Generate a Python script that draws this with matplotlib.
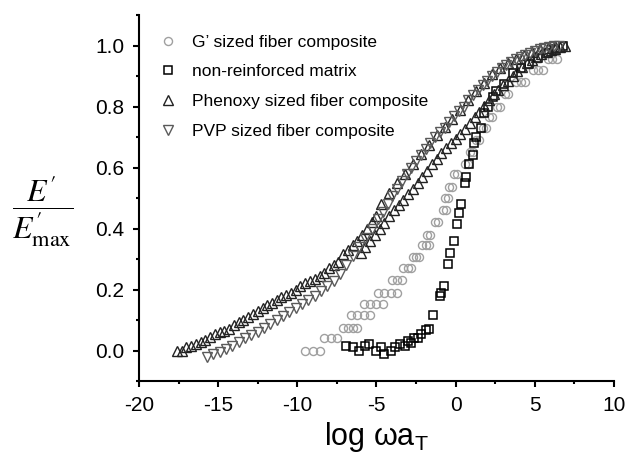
import numpy as np
import matplotlib
matplotlib.use("Agg")
import matplotlib.pyplot as plt
from matplotlib.ticker import AutoMinorLocator

plt.rcParams['font.family'] = ['Liberation Sans', 'DejaVu Sans']
plt.rcParams['mathtext.fontset'] = 'custom'
plt.rcParams['mathtext.rm'] = 'Liberation Sans'
plt.rcParams['mathtext.it'] = 'Liberation Sans:italic'

# ---------------- data ----------------
labels = ["G\u2019 sized fiber composite", "non-reinforced matrix",
          "Phenoxy sized fiber composite", "PVP sized fiber composite"]

gsized_x = [-9.5, -9.0, -8.6,
            -8.3, -7.9, -7.5,
            -7.1, -6.8, -6.5, -6.2,
            -6.6, -6.2, -5.8, -5.4,
            -5.8, -5.4, -5.0, -4.6,
            -4.9, -4.5, -4.1, -3.7,
            -4.0, -3.7, -3.4,
            -3.3, -3.0, -2.8,
            -2.7, -2.5, -2.3,
            -2.1, -1.9, -1.7,
            -1.8, -1.6,
            -1.3, -1.1,
            -0.8, -0.6,
            -0.7, -0.5,
            -0.4, -0.2,
            -0.1, 0.1,
            0.6, 0.8,
            0.9, 1.1,
            1.3, 1.5,
            1.7, 1.9,
            2.1, 2.3,
            2.6, 2.8,
            3.1, 3.3,
            3.8, 4.1, 4.4,
            4.9, 5.2, 5.5,
            5.8, 6.1, 6.4]
gsized_y = [0.0, 0.0, 0.0,
            0.04, 0.04, 0.04,
            0.075, 0.075, 0.075, 0.075,
            0.115, 0.115, 0.115, 0.115,
            0.153, 0.153, 0.153, 0.153,
            0.19, 0.19, 0.19, 0.19,
            0.23, 0.23, 0.23,
            0.27, 0.27, 0.27,
            0.305, 0.305, 0.305,
            0.345, 0.345, 0.345,
            0.38, 0.38,
            0.42, 0.42,
            0.46, 0.46,
            0.50, 0.50,
            0.535, 0.535,
            0.58, 0.58,
            0.61, 0.61,
            0.65, 0.65,
            0.69, 0.69,
            0.73, 0.73,
            0.765, 0.765,
            0.80, 0.80,
            0.84, 0.84,
            0.88, 0.88, 0.88,
            0.92, 0.92, 0.92,
            0.955, 0.955, 0.955]

matrix_x = [-6.95, -6.5, -6.1, -5.7, -5.5, -5.0, -4.7, -4.5, -4.1, -3.8,
            -3.5, -3.2, -3.0, -2.8, -2.6, -2.4, -2.2, -1.9, -1.7, -1.4,
            -1.0, -0.95, -0.76, -0.5, -0.38, -0.13, 0.06, 0.19, 0.32, 0.57,
            0.63, 0.82, 1.07, 1.14, 1.26, 1.58, 1.77, 2.02, 2.34, 2.53,
            3.03, 3.6, 4.1, 4.6, 5.2, 5.8, 6.3, 6.8]
matrix_y = [0.016, 0.01, 0.0, 0.015, 0.02, 0.0, 0.012, -0.01, 0.0, 0.01,
            0.02, 0.015, 0.03, 0.026, 0.04, 0.04, 0.055, 0.066, 0.07, 0.115,
            0.18, 0.19, 0.21, 0.285, 0.32, 0.36, 0.415, 0.45, 0.48, 0.55,
            0.57, 0.61, 0.64, 0.68, 0.70, 0.73, 0.78, 0.80, 0.83, 0.85,
            0.875, 0.91, 0.925, 0.94, 0.96, 0.975, 0.99, 1.0]

phenoxy_x = [-17.6, -17.3, -17.0, -16.7, -16.4, -16.1, -15.8, -15.5, -15.2, -14.9,
             -14.6, -14.3, -14.0, -13.7, -13.4, -13.1, -12.8, -12.5, -12.2, -11.9,
             -11.6, -11.3, -11.0, -10.7, -10.4, -10.1, -9.8, -9.5, -9.2, -8.9,
             -8.6, -8.3, -8.0, -7.7, -7.4, -7.1, -6.8, -6.5, -6.2, -5.9,
             -5.6, -5.3, -5.0,
             -4.7, -4.2, -3.7, -3.2, -2.7, -2.2, -1.7, -1.2, -0.7, -0.2,
             0.3, 0.8, 1.3, 1.8, 2.3, 2.8, 3.3, 3.8, 4.3, 4.8,
             5.3, 5.8, 6.3,
             -6.0, -5.7, -5.4, -5.1, -4.8, -4.5, -4.2, -3.9, -3.6, -3.3,
             -3.0, -2.7, -2.4, -2.1, -1.8, -1.5, -1.2, -0.9, -0.6, -0.3,
             0.0, 0.3, 0.6, 0.9, 1.2, 1.5, 1.8, 2.1, 2.4, 2.7,
             3.0, 3.3, 3.6, 3.9, 4.2, 4.5, 4.8, 5.1, 5.4, 5.7,
             6.0, 6.3, 6.6, 6.9]
phenoxy_y = [0.0, 0.0, 0.01, 0.015, 0.02, 0.028, 0.035, 0.045, 0.055, 0.06,
             0.065, 0.07, 0.085, 0.092, 0.10, 0.11, 0.12, 0.13, 0.14, 0.148,
             0.155, 0.165, 0.175, 0.183, 0.19, 0.20, 0.21, 0.22, 0.228, 0.235,
             0.245, 0.255, 0.27, 0.28, 0.29, 0.315, 0.33, 0.345, 0.36, 0.38,
             0.40, 0.42, 0.44,
             0.48, 0.515, 0.55, 0.58, 0.61, 0.643, 0.675, 0.705, 0.733, 0.76,
             0.79, 0.82, 0.85, 0.878, 0.905, 0.925, 0.942, 0.957, 0.968, 0.978,
             0.987, 0.993, 0.997,
             0.32, 0.34, 0.36, 0.378, 0.397, 0.418, 0.44, 0.46, 0.478, 0.495,
             0.513, 0.531, 0.55, 0.57, 0.59, 0.61, 0.628, 0.647, 0.665, 0.68,
             0.695, 0.709, 0.725, 0.745, 0.765, 0.783, 0.802, 0.822, 0.84, 0.855,
             0.87, 0.885, 0.90, 0.915, 0.93, 0.943, 0.953, 0.963, 0.972, 0.979,
             0.985, 0.99, 0.995, 1.0]

pvp_x = [-15.7, -15.3, -14.9, -14.5, -14.1, -13.7, -13.3, -12.9, -12.5, -12.1,
         -11.7, -11.3, -10.9, -10.5, -10.1, -9.7, -9.3, -8.9, -8.5, -8.1,
         -7.7, -7.3, -6.9, -6.5, -6.1, -5.7, -5.3, -4.9,
         -4.6, -4.3, -4.0, -3.7, -3.4, -3.1, -2.8, -2.5, -2.2, -1.9,
         -1.6, -1.3, -1.0, -0.7, -0.4, -0.1, 0.2, 0.5, 0.8, 1.1,
         1.4, 1.7, 2.0, 2.3, 2.6, 2.9, 3.2, 3.5, 3.8, 4.1,
         4.4, 4.7, 5.0, 5.3, 5.6, 5.9, 6.2, 6.5]
pvp_y = [-0.02, -0.012, -0.005, 0.005, 0.015, 0.028, 0.04, 0.05, 0.062, 0.075,
         0.088, 0.10, 0.112, 0.125, 0.138, 0.152, 0.165, 0.18, 0.195, 0.21,
         0.228, 0.25, 0.28, 0.31, 0.34, 0.37, 0.40, 0.43,
         0.455, 0.48, 0.505, 0.53, 0.555, 0.578, 0.60, 0.62, 0.64, 0.66,
         0.68, 0.70, 0.715, 0.73, 0.75, 0.77, 0.785, 0.80, 0.82, 0.838,
         0.855, 0.87, 0.885, 0.90, 0.912, 0.925, 0.935, 0.945, 0.955, 0.962,
         0.97, 0.977, 0.983, 0.988, 0.992, 0.995, 0.998, 1.0]

x_ticks = [-20, -15, -10, -5, 0, 5, 10]
y_ticks = [0.0, 0.2, 0.4, 0.6, 0.8, 1.0]

# ---------------- figure ----------------
fig = plt.figure(figsize=(6.27, 4.63), dpi=100)
ax = fig.add_axes([139/627, 1-381/463, (614-139)/627, (381-15)/463])

ax.plot(gsized_x, gsized_y, linestyle='none', marker='o', ms=5.8,
        mfc='none', mec='#a0a0a0', mew=1.0, label=labels[0])
ax.plot(matrix_x, matrix_y, linestyle='none', marker='s', ms=6.0,
        mfc='none', mec='#000000', mew=1.1, label=labels[1])
ax.plot(phenoxy_x, phenoxy_y, linestyle='none', marker='^', ms=7.0,
        mfc='none', mec='#222222', mew=1.0, label=labels[2])
ax.plot(pvp_x, pvp_y, linestyle='none', marker='v', ms=7.0,
        mfc='none', mec='#5a5a5a', mew=1.0, label=labels[3])

ax.set_xlim(-20, 10)
ax.set_ylim(-0.1, 1.1)
ax.set_xticks(x_ticks)
ax.set_yticks(y_ticks)
ax.set_xticklabels([str(v) for v in x_ticks])
ax.set_yticklabels([f"{v:.1f}" for v in y_ticks])
ax.xaxis.set_minor_locator(AutoMinorLocator(2))
ax.yaxis.set_minor_locator(AutoMinorLocator(2))

for s in ['top', 'right']:
    ax.spines[s].set_visible(False)
for s in ['left', 'bottom']:
    ax.spines[s].set_linewidth(1.5)

ax.tick_params(which='major', direction='out', length=4.5, width=1.5,
               labelsize=15, pad=6)
ax.tick_params(which='minor', direction='out', length=2.5, width=1.5)

ax.set_xlabel(r'log ωa$_\mathrm{T}$', fontsize=22, labelpad=4,
              math_fontfamily='custom')

fig.text(43/627, 1-211/463, r'$\dfrac{E^{\prime}}{E^{\prime}_{\mathrm{max}}}$',
         math_fontfamily='stix', fontsize=23, ha='center', va='center')

leg = ax.legend(loc='upper left', bbox_to_anchor=(0.042, 0.946), frameon=False,
                fontsize=12.5, handlelength=1.0, handletextpad=0.9,
                labelspacing=0.83, borderpad=0, borderaxespad=0)

fig.savefig('out.png', dpi=100)
